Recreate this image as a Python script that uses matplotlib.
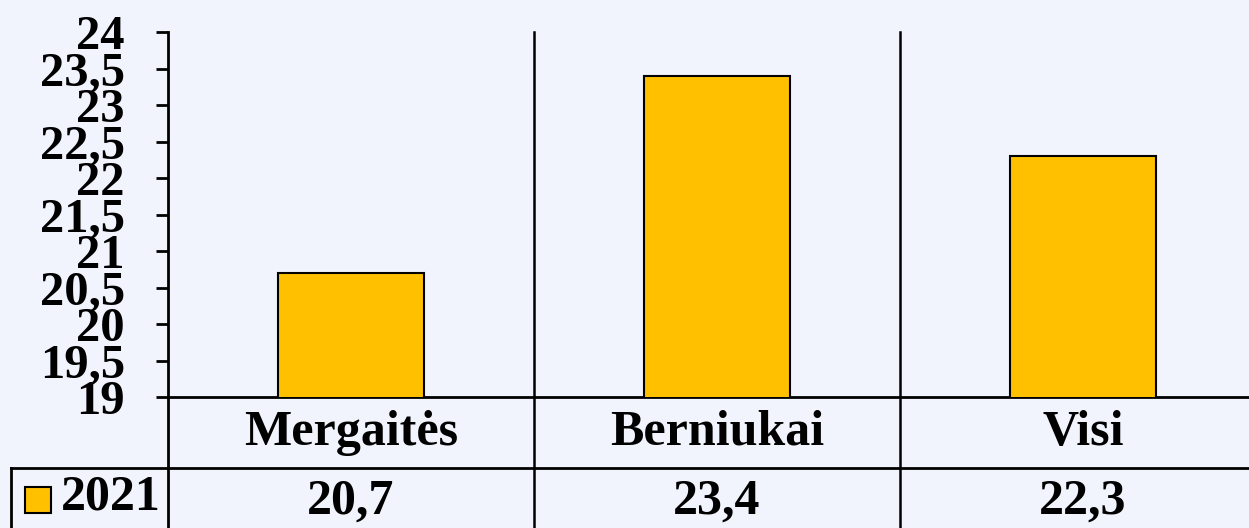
import numpy as np
import matplotlib.pyplot as plt
import matplotlib.transforms as mtransforms
from matplotlib.patches import Rectangle

categories = ['Mergaitės', 'Berniukai', 'Visi']
values_2021 = [20.7, 23.4, 22.3]
series_name = '2021'
yticks = [19, 19.5, 20, 20.5, 21, 21.5, 22, 22.5, 23, 23.5, 24]

bg = '#F1F4FC'
gold = '#FFC000'
plt.rcParams['font.family'] = ['Liberation Serif', 'DejaVu Serif']
plt.rcParams['font.weight'] = 'bold'

W, H = 1249, 528
fig = plt.figure(figsize=(W / 100, H / 100), dpi=100, facecolor=bg)

# axes placed in pixels, right part runs past the figure edge (cropped like the original)
left_px, right_px, top_px, bot_px = 168, 1266, 32, 397
ax = fig.add_axes([left_px / W, (H - bot_px) / H, (right_px - left_px) / W, (bot_px - top_px) / H])
ax.set_facecolor(bg)

x = np.arange(len(categories))
ax.bar(x, values_2021, width=0.40, bottom=0, color=gold, edgecolor='black', linewidth=1.5, zorder=3)
ax.set_xlim(-0.5, len(categories) - 0.5)
ax.set_ylim(19, 24)
ax.set_yticks(yticks)
ax.set_yticklabels([('%g' % t).replace('.', ',') for t in yticks], fontsize=35, fontweight='bold')
ax.tick_params(axis='y', length=9, width=2, pad=22, direction='out')
ax.set_xticks([])
for s in ['top', 'right']:
    ax.spines[s].set_visible(False)
ax.spines['left'].set_linewidth(2)
ax.spines['bottom'].set_linewidth(2)

# data table below the plot
blend = mtransforms.blended_transform_factory(ax.transData, ax.transAxes)
row_h = (468 - bot_px) / (bot_px - top_px)  # in axes fraction
for sep in np.arange(len(categories) - 1) + 0.5:
    ax.plot([sep, sep], [1, -1], transform=blend, color='black', lw=1.8, clip_on=False)
ax.plot([0, 0], [0, -1], transform=ax.transAxes, color='black', lw=2, clip_on=False)

# horizontal line between category row and value row
y_line = (H - 468) / H
fig.add_artist(plt.Line2D([11 / W, 1.0], [y_line, y_line], color='black', lw=2))
fig.add_artist(plt.Line2D([11 / W, 11 / W], [0, y_line], color='black', lw=2))

for xi, cat, v in zip(x, categories, values_2021):
    ax.text(xi, -row_h / 2, cat, transform=blend, ha='center', va='center',
            fontsize=36, fontweight='bold', clip_on=False)
    ax.text(xi, -row_h - 0.5 * (528 - 468) / (bot_px - top_px) - 0.01, ('%.1f' % v).replace('.', ','),
            transform=blend, ha='center', va='center', fontsize=36, fontweight='bold', clip_on=False)

# legend key in the table
fig.add_artist(Rectangle((25 / W, (H - 513) / H), 26 / W, 26 / H, facecolor=gold,
                         edgecolor='black', lw=1.5))
fig.text(61 / W, (H - 498) / H, series_name, ha='left', va='center', fontsize=36, fontweight='bold')

fig.savefig('out.png', dpi=100, facecolor=bg)
